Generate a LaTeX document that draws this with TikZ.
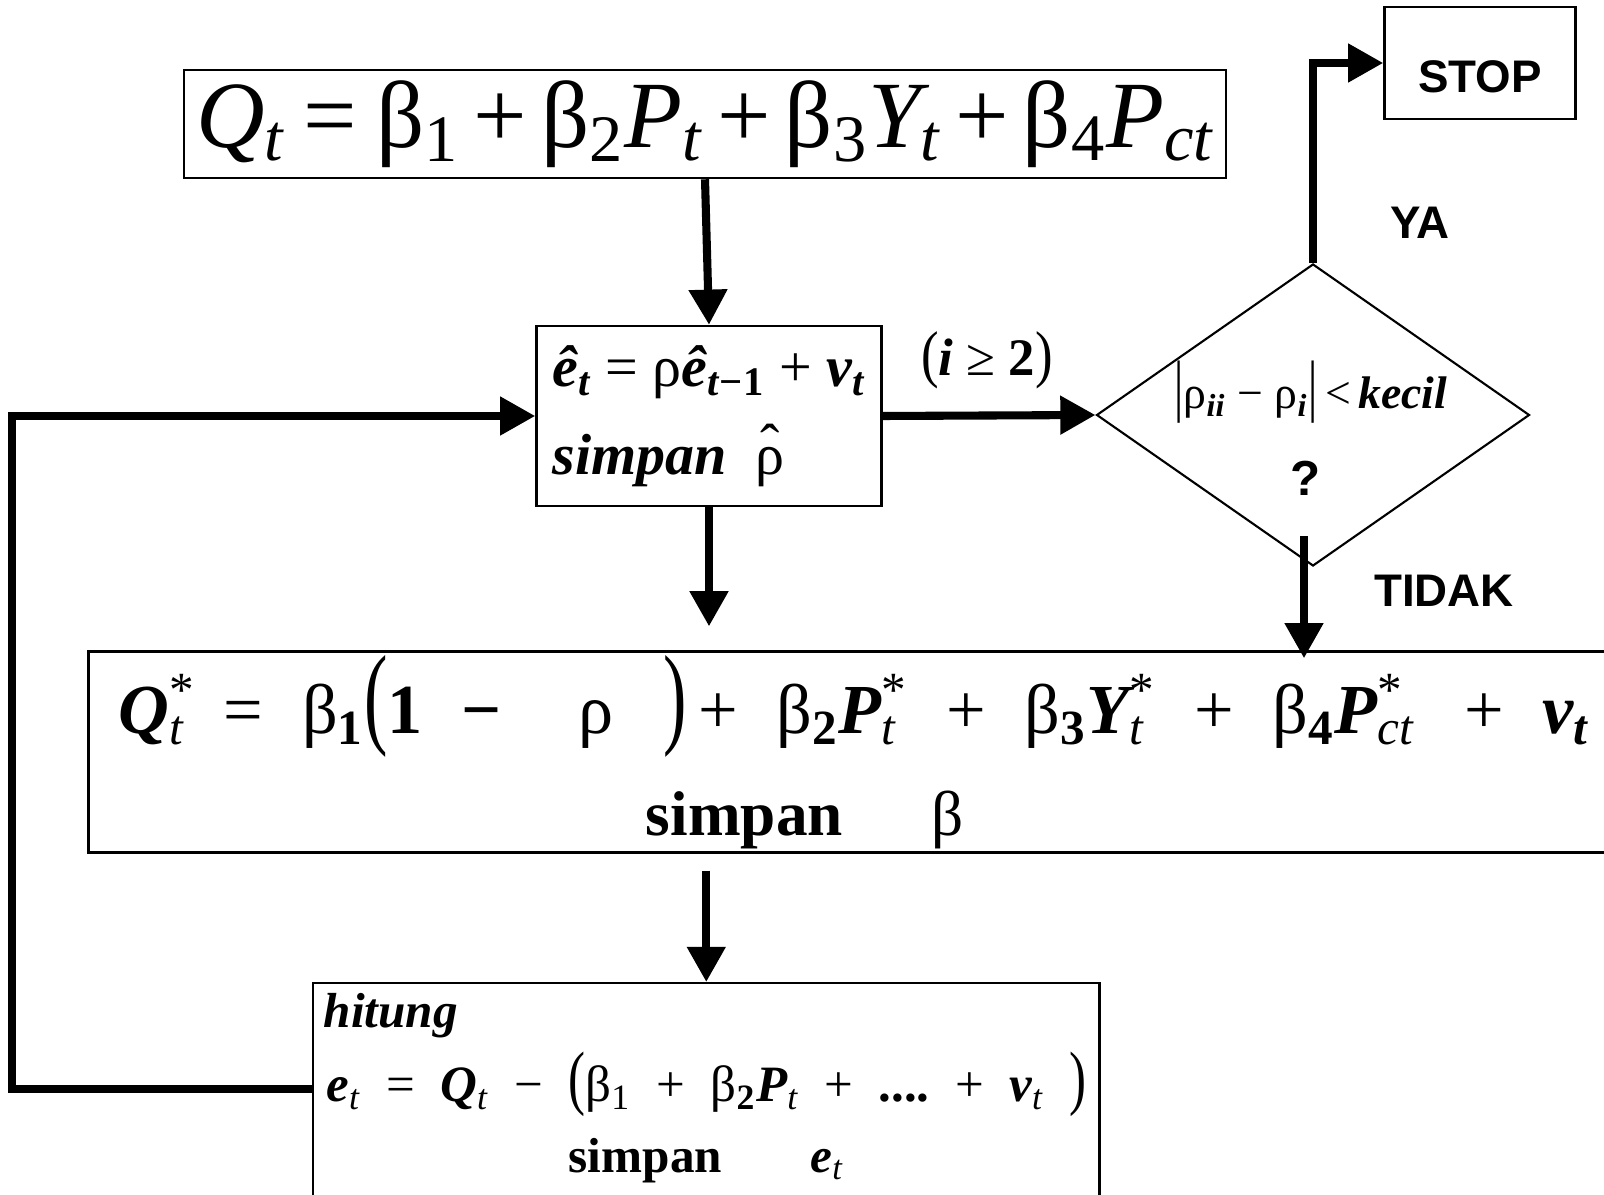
\documentclass[tikz,border=0pt]{standalone}
\usepackage{fontspec}
\setmainfont{Liberation Serif}
\setsansfont{Liberation Sans}
\usepackage{tikz}
\usetikzlibrary{arrows.meta,positioning,shapes.geometric,calc}
\newcommand{\sbs}[1]{\textsubscript{#1}}
\newcommand{\supsub}[2]{\rlap{\textsuperscript{#1}}\textsubscript{#2}}
\newcommand{\bi}[1]{{\bfseries\itshape #1}}
\newcommand{\tallbar}{\scalebox{1}[1.5]{|}}
\newcommand{\hatrho}{\ooalign{ρ\cr\hidewidth\raisebox{0.35ex}{ˆ}\hidewidth\cr}}
\newcommand{\gap}{\hspace{0.5em}}
\newcommand{\wgap}{\hspace{0.55em}}

\begin{document}
\begin{tikzpicture}[x=0.1mm,y=-0.1mm,
  box/.style={draw,rectangle,line width=0.7pt,inner sep=3pt},
  decision/.style={draw,diamond,line width=0.6pt,minimum width=43.3mm,
    minimum height=30.2mm,inner sep=0pt},
  arrow/.style={-{Triangle[length=10pt,width=10.5pt]},line width=2.3pt},
  tag/.style={font=\sffamily\bfseries\fontsize{13}{15}\selectfont}
  ]
\useasboundingbox (0,0) rectangle (1604,1195);

% Model at the top
\node[box,inner xsep=2pt,minimum width=104.2mm,minimum height=10.8mm,
  font=\fontsize{27}{32}\selectfont] (model) at (705,124)
  {\itshape Q\sbs{t}\upshape\hspace{0.2em}=\hspace{0.2em}β\sbs{1}\hspace{0.15em}+\hspace{0.15em}β\sbs{2}\itshape P\sbs{t}\upshape\hspace{0.15em}+\hspace{0.15em}β\sbs{3}\itshape Y\sbs{t}\upshape\hspace{0.15em}+\hspace{0.15em}β\sbs{4}\itshape P\sbs{ct}};

\node[box,minimum width=19.1mm,minimum height=11.2mm,tag] (stop) at (1480,63)
  {\raisebox{-4pt}[\height][\depth]{STOP}};

% Residual step
\node[box,minimum width=34.5mm,minimum height=18mm,align=left,
  font=\fontsize{16.5}{25}\selectfont] (resid) at (709,416)
  {\bi{ê}\sbs{\bi{t}} = ρ\bi{ê}\sbs{\bi{t}\textbf{−1}} + \bi{v}\sbs{\bi{t}}\\
   \bi{simpan}\ \ \hatrho};

% Decision
\node[decision] (dec) at (1313,415) {};
\node[font=\fontsize{13}{15}\selectfont] (cond) at (1311,392)
  {\tallbar ρ\sbs{\bi{ii}} − ρ\sbs{\bi{i}}\tallbar\,<\,\bi{kecil}};
\node[tag,font=\sffamily\bfseries\fontsize{14}{16}\selectfont] (quest) at (1306,478) {?};

% Transformed model
\node[box,inner ysep=0pt,minimum width=153.1mm,minimum height=20.1mm,align=center,
  font=\fontsize{20}{29}\selectfont] (trans) at (854,752)
  {\bi{Q}\supsub{*}{\itshape t}\wgap=\wgap β\sbs{\bfseries 1}\scalebox{1}[1.6]{(}\textbf{1\wgap−}\hspace{1.1em}ρ\hspace{0.7em}\scalebox{1}[1.6]{)}\,+\wgap β\sbs{\bfseries 2}\bi{P}\supsub{*}{\itshape t}\hspace{0.7em}+\wgap β\sbs{\bfseries 3}\bi{Y}\supsub{*}{\itshape t}\hspace{0.7em}+\wgap β\sbs{\bfseries 4}\bi{P}\supsub{*}{\itshape ct}\hspace{0.7em}+\wgap\bi{v}\sbs{\bi{t}}\\
   \fontsize{18}{29}\selectfont\textbf{simpan}\hspace{1.4em}β\hspace*{28pt}};

% Residuals
\node[box,anchor=north west,minimum width=78.6mm,
  text width=76.5mm,align=center,font=\fontsize{14}{21}\selectfont] (resn) at (312,982)
  {\bi{hitung}\hfill\mbox{}\\
   \fontsize{14.5}{21}\selectfont\bi{e}\sbs{\itshape t}\gap=\gap\bi{Q}\sbs{\itshape t}\gap−\gap\scalebox{1}[1.4]{(}β\sbs{1}\gap+\gap β\sbs{\bfseries 2}\bi{P}\sbs{\itshape t}\gap+\gap\textbf{....}\gap+\gap\bi{v}\sbs{\itshape t}\gap\scalebox{1}[1.4]{)}\\[-1pt]
   \fontsize{14}{21}\selectfont\textbf{simpan}\hspace{1.8em}\bi{e}\sbs{\itshape t}\\
   \mbox{}};

% Labels
\node[font=\fontsize{15}{18}\selectfont] (cnt) at (987,360)
  {\scalebox{1}[1.2]{(}\bi{i} ≥ \textbf{2}\scalebox{1}[1.2]{)}};
\node[tag] (ya) at (1420,223) {YA};
\node[tag] (tidak) at (1444,591) {TIDAK};

% Connectors
\coordinate (loop) at (12,1089);
\draw[arrow] (model.south) -- (resid.north);
\draw[arrow] (resid.east) -- (dec.west);
\draw[arrow] (dec.north) |- (stop.west);
\draw[arrow] ($(dec.south)+(-9,-31)$) -- ($(dec.south |- trans.north)+(-9,8)$);
\draw[arrow,shorten >=6.8pt] (resid.south) -- (resid.south |- trans.north);
\draw[arrow,shorten <=4.8pt] (resn.north |- trans.south) -- (resn.north);
\draw[arrow] (resn.west |- loop) -- (loop) |- (resid.west);

\end{tikzpicture}
\end{document}
